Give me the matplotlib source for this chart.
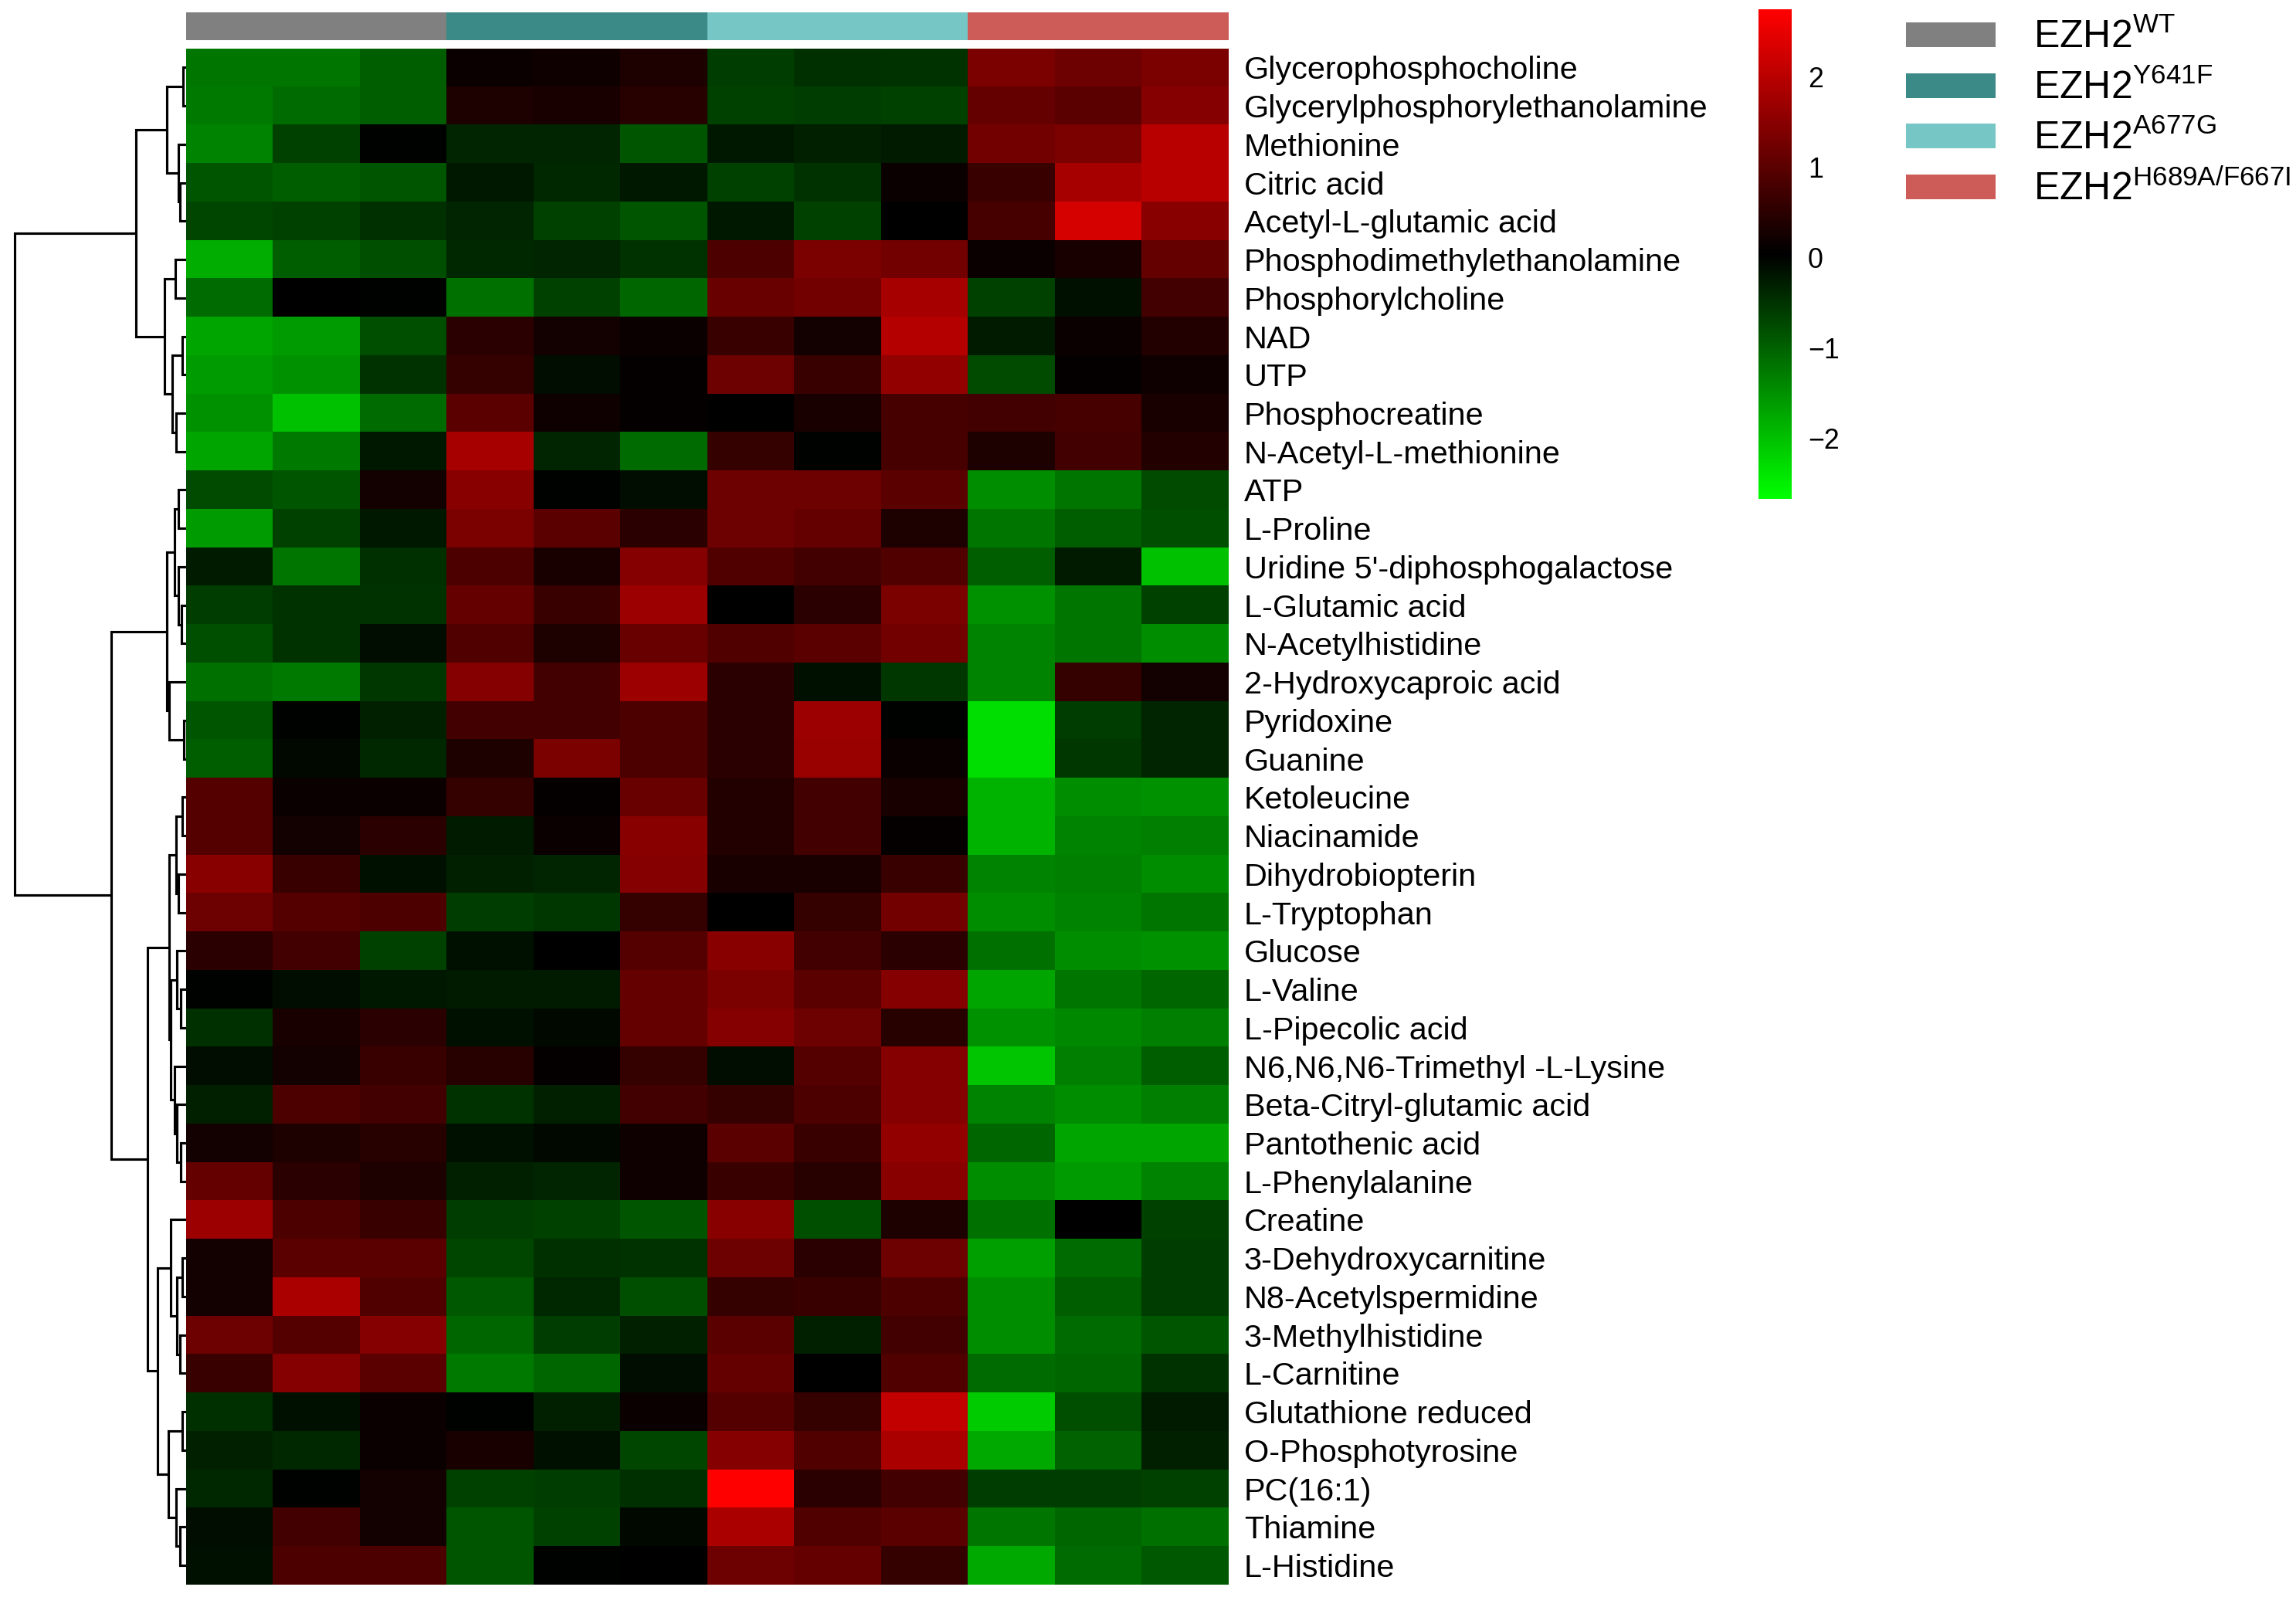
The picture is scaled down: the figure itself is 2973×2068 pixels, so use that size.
import numpy as np
import matplotlib
matplotlib.use("Agg")
from matplotlib import pyplot as plt
from matplotlib.colors import LinearSegmentedColormap, Normalize
from matplotlib.patches import Rectangle

plt.rcParams['font.family'] = ['Liberation Sans', 'DejaVu Sans']
plt.rcParams['mathtext.fontset'] = 'custom'
plt.rcParams['mathtext.rm'] = 'Liberation Sans'
plt.rcParams['mathtext.it'] = 'Liberation Sans'

metabolites = [
    "Glycerophosphocholine", "Glycerylphosphorylethanolamine", "Methionine",
    "Citric acid", "Acetyl-L-glutamic acid", "Phosphodimethylethanolamine",
    "Phosphorylcholine", "NAD", "UTP", "Phosphocreatine", "N-Acetyl-L-methionine",
    "ATP", "L-Proline", "Uridine 5'-diphosphogalactose", "L-Glutamic acid",
    "N-Acetylhistidine", "2-Hydroxycaproic acid", "Pyridoxine", "Guanine",
    "Ketoleucine", "Niacinamide", "Dihydrobiopterin", "L-Tryptophan", "Glucose",
    "L-Valine", "L-Pipecolic acid", "N6,N6,N6-Trimethyl -L-Lysine",
    "Beta-Citryl-glutamic acid", "Pantothenic acid", "L-Phenylalanine", "Creatine",
    "3-Dehydroxycarnitine", "N8-Acetylspermidine", "3-Methylhistidine",
    "L-Carnitine", "Glutathione reduced", "O-Phosphotyrosine", "PC(16:1)",
    "Thiamine", "L-Histidine",
]

groups = ["WT", "Y641F", "A677G", "H689A/F667I"]
group_colors = ["#808080", "#3C8A87", "#76C6C5", "#CD5C58"]
samples_per_group = 3

# row-scaled abundance (z-score), 40 metabolites x 12 samples
zscores = np.array([
    [-1.2, -1.2, -0.95, 0.15, 0.2, 0.35, -0.6, -0.45, -0.5, 1.35, 1.2, 1.35],
    [-1.25, -1.1, -0.95, 0.35, 0.3, 0.45, -0.65, -0.6, -0.65, 1.1, 1.0, 1.45],
    [-1.35, -0.65, 0.0, -0.35, -0.35, -0.85, -0.2, -0.3, -0.25, 1.25, 1.35, 2.0],
    [-0.85, -0.95, -0.85, -0.2, -0.4, -0.2, -0.65, -0.5, 0.15, 0.65, 1.8, 2.0],
    [-0.7, -0.65, -0.45, -0.35, -0.65, -0.85, -0.2, -0.65, 0.05, 0.8, 2.3, 1.5],
    [-1.8, -0.95, -0.8, -0.4, -0.35, -0.5, 0.85, 1.35, 1.25, 0.15, 0.3, 1.1],
    [-1.1, 0.05, 0.0, -1.15, -0.65, -1.05, 1.15, 1.25, 1.8, -0.65, -0.15, 0.75],
    [-1.7, -1.6, -0.8, 0.5, 0.25, 0.15, 0.65, 0.25, 1.95, -0.25, 0.15, 0.4],
    [-1.6, -1.5, -0.5, 0.6, -0.1, 0.1, 1.2, 0.65, 1.6, -0.75, 0.1, 0.2],
    [-1.5, -2.0, -1.1, 1.0, 0.2, 0.1, 0.05, 0.3, 0.8, 0.75, 0.8, 0.3],
    [-1.7, -1.25, -0.2, 1.8, -0.35, -1.1, 0.6, 0.0, 0.8, 0.35, 0.75, 0.4],
    [-0.75, -0.85, 0.25, 1.5, 0.0, -0.1, 1.2, 1.2, 1.0, -1.45, -1.2, -0.75],
    [-1.6, -0.65, -0.2, 1.35, 1.0, 0.5, 1.2, 1.1, 0.35, -1.2, -0.95, -0.8],
    [-0.25, -1.2, -0.45, 0.85, 0.3, 1.45, 0.9, 0.75, 0.9, -0.95, -0.25, -2.0],
    [-0.6, -0.5, -0.5, 1.1, 0.65, 1.7, 0.05, 0.5, 1.35, -1.5, -1.2, -0.65],
    [-0.8, -0.5, -0.1, 0.9, 0.35, 1.15, 0.9, 1.0, 1.25, -1.35, -1.2, -1.45],
    [-1.15, -1.25, -0.55, 1.45, 0.75, 1.7, 0.5, -0.15, -0.55, -1.35, 0.6, 0.25],
    [-0.85, 0.0, -0.3, 0.75, 0.75, 0.85, 0.5, 1.7, 0.0, -2.3, -0.6, -0.35],
    [-0.95, -0.05, -0.4, 0.35, 1.35, 0.85, 0.5, 1.65, 0.15, -2.3, -0.55, -0.35],
    [0.95, 0.15, 0.15, 0.6, 0.1, 1.15, 0.4, 0.75, 0.3, -1.85, -1.45, -1.5],
    [0.95, 0.25, 0.5, -0.25, 0.15, 1.5, 0.4, 0.75, 0.1, -1.85, -1.35, -1.3],
    [1.5, 0.65, -0.15, -0.3, -0.35, 1.45, 0.3, 0.3, 0.65, -1.35, -1.3, -1.45],
    [1.2, 0.95, 0.85, -0.6, -0.55, 0.6, 0.05, 0.6, 1.25, -1.45, -1.35, -1.2],
    [0.5, 0.75, -0.65, -0.15, 0.05, 0.95, 1.5, 0.75, 0.5, -1.15, -1.45, -1.5],
    [0.0, -0.1, -0.2, -0.25, -0.25, 1.1, 1.35, 1.0, 1.45, -1.7, -1.2, -1.05],
    [-0.45, 0.3, 0.5, -0.15, -0.05, 1.1, 1.45, 1.2, 0.45, -1.5, -1.4, -1.3],
    [-0.1, 0.25, 0.65, 0.45, 0.1, 0.6, -0.1, 0.95, 1.45, -2.05, -1.3, -0.95],
    [-0.3, 0.85, 0.75, -0.5, -0.3, 0.75, 0.6, 0.85, 1.45, -1.35, -1.45, -1.3],
    [0.25, 0.35, 0.45, -0.15, -0.05, 0.2, 1.0, 0.65, 1.6, -1.05, -1.7, -1.7],
    [1.1, 0.5, 0.35, -0.3, -0.35, 0.2, 0.65, 0.45, 1.5, -1.45, -1.6, -1.35],
    [1.7, 0.85, 0.65, -0.6, -0.65, -0.85, 1.5, -0.8, 0.35, -1.15, 0.05, -0.65],
    [0.25, 1.0, 1.0, -0.7, -0.45, -0.5, 1.2, 0.5, 1.2, -1.65, -1.1, -0.6],
    [0.25, 1.85, 0.9, -0.9, -0.4, -0.8, 0.6, 0.65, 0.85, -1.45, -0.95, -0.6],
    [1.2, 0.95, 1.45, -1.05, -0.6, -0.3, 1.0, -0.3, 0.75, -1.45, -1.1, -0.85],
    [0.65, 1.45, 1.0, -1.25, -1.05, -0.1, 1.1, 0.05, 0.9, -1.1, -1.05, -0.5],
    [-0.45, -0.15, 0.15, 0.0, -0.3, 0.15, 0.95, 0.6, 2.1, -2.1, -0.8, -0.25],
    [-0.3, -0.4, 0.15, 0.3, -0.15, -0.7, 1.45, 0.9, 1.85, -1.75, -1.0, -0.3],
    [-0.4, 0.0, 0.25, -0.65, -0.6, -0.45, 2.75, 0.5, 0.75, -0.6, -0.6, -0.65],
    [-0.1, 0.75, 0.25, -0.85, -0.65, -0.05, 1.85, 0.9, 1.0, -1.2, -1.05, -1.15],
    [-0.15, 0.85, 0.85, -0.85, 0.0, 0.05, 1.2, 1.1, 0.6, -1.75, -1.1, -0.9],
])

# row clustering: (left, right, height), ids >= 40 refer to earlier merges
linkage = [
    (0, 1, 4), (3, 4, 8.5), (2, 41, 10.5), (40, 42, 25),
    (5, 6, 14), (7, 8, 5), (9, 10, 13.5), (45, 46, 18.5), (44, 47, 28.5),
    (43, 48, 65),
    (11, 12, 10), (14, 15, 6.5), (13, 51, 10.5), (50, 52, 15),
    (17, 18, 3.5), (16, 54, 22), (53, 55, 25),
    (19, 20, 5), (21, 22, 10), (57, 58, 13.5),
    (24, 25, 6.7), (23, 60, 11.7), (28, 29, 6.7), (27, 62, 11.7), (26, 63, 15),
    (61, 64, 20), (59, 65, 22),
    (31, 32, 5), (33, 34, 8.3), (67, 68, 11.7), (30, 69, 20),
    (35, 36, 5), (38, 39, 8.3), (37, 72, 13.5), (71, 73, 23.3),
    (70, 74, 36.7), (66, 75, 50), (56, 76, 97), (49, 77, 222),
]

vmin, vmax = -2.67, 2.75
cmap = LinearSegmentedColormap.from_list("gbr", ["#00FF00", "#000000", "#FF0000"])
norm = Normalize(vmin=vmin, vmax=vmax)

W, H = 2973, 2068
fig = plt.figure(figsize=(W / 300, H / 300), dpi=300)

def fx(px):
    return px / W

def fy(px):
    return 1 - px / H

n_rows, n_cols = zscores.shape
hm_left, hm_right, hm_top, hm_bottom = 241, 1590, 62.5, 2052

# heatmap
ax = fig.add_axes([fx(hm_left), fy(hm_bottom), fx(hm_right - hm_left), (hm_bottom - hm_top) / H])
ax.imshow(zscores, cmap=cmap, norm=norm, aspect='auto', interpolation='nearest')
ax.set_xticks([])
ax.yaxis.tick_right()
ax.set_yticks(range(n_rows))
ax.set_yticklabels(metabolites, fontsize=9.95)
ax.tick_params(axis='y', length=0, pad=5.0)
for s in ax.spines.values():
    s.set_visible(False)

# column annotation bar
ax_ann = fig.add_axes([fx(hm_left), fy(52), fx(hm_right - hm_left), 36 / H])
group_idx = np.repeat(np.arange(len(groups)), samples_per_group)
ax_ann.imshow(group_idx[None, :], cmap=matplotlib.colors.ListedColormap(group_colors),
              aspect='auto', interpolation='nearest', vmin=-0.5, vmax=len(groups) - 0.5)
ax_ann.axis('off')

# row dendrogram
ax_d = fig.add_axes([0, fy(hm_bottom), fx(hm_left), (hm_bottom - hm_top) / H])
pos = {i: (float(i), 0.0) for i in range(n_rows)}
for k, (a, b, h) in enumerate(linkage):
    ya, ha = pos[a]
    yb, hb = pos[b]
    ax_d.plot([ha, h, h, hb], [ya, ya, yb, yb], color='black', lw=0.75,
              solid_joinstyle='miter', solid_capstyle='butt')
    pos[n_rows + k] = ((ya + yb) / 2, h)
ax_d.set_xlim(hm_left, 0)
ax_d.set_ylim(n_rows - 0.5, -0.5)
ax_d.axis('off')

# colorbar
ax_cb = fig.add_axes([fx(2277), fy(646), fx(43), 634 / H])
grad = np.linspace(vmin, vmax, 256)[:, None]
ax_cb.imshow(grad, cmap=cmap, norm=norm, aspect='auto', origin='lower',
             extent=[0, 1, vmin, vmax])
ax_cb.set_xticks([])
ax_cb.yaxis.tick_right()
ax_cb.set_yticks([-2, -1, 0, 1, 2])
ax_cb.set_yticklabels(['\u22122', '\u22121', '0', '1', '2'], fontsize=8.6)
ax_cb.tick_params(axis='y', length=0, pad=5)
for s in ax_cb.spines.values():
    s.set_visible(False)

# group legend
ax_leg = fig.add_axes([0, 0, 1, 1])
ax_leg.set_xlim(0, W)
ax_leg.set_ylim(H, 0)
ax_leg.axis('off')
for i, (g, c) in enumerate(zip(groups, group_colors)):
    y0 = 29 + i * 65.5
    ax_leg.add_patch(Rectangle((2468, y0), 116, 32, facecolor=c, edgecolor='none'))
    ax_leg.text(2633, y0 + 19, 'EZH2$^{\\mathrm{' + g + '}}$', fontsize=12,
                va='center', ha='left')

fig.savefig('out.png', dpi=300, facecolor='white')
